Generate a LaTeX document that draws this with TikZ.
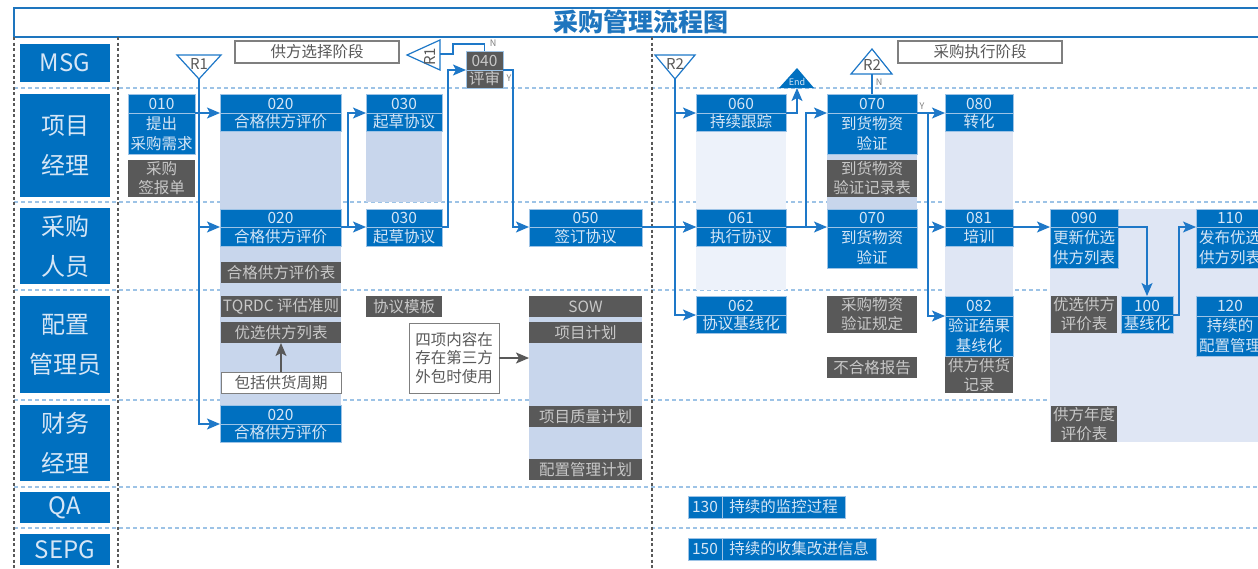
\documentclass[tikz,border=0pt]{standalone}
\usepackage{fontspec}
\setmainfont{Noto Sans CJK SC}
\usepackage{tikz}
\usetikzlibrary{arrows.meta}

\definecolor{pblue}{RGB}{0,112,192}
\definecolor{ptext}{RGB}{214,230,246}
\definecolor{ablue}{RGB}{30,120,200}
\definecolor{tblue}{RGB}{30,117,190}
\definecolor{lblue}{RGB}{157,195,230}
\definecolor{dgrey}{RGB}{89,89,89}
\definecolor{mgrey}{RGB}{127,127,127}
\definecolor{gtext}{RGB}{200,200,200}
\definecolor{colA}{RGB}{200,214,236}
\definecolor{colB}{RGB}{237,242,250}
\definecolor{colC}{RGB}{223,230,244}

\begin{document}
\begin{tikzpicture}[x=1pt, y=-1pt,
    every node/.style={inner sep=0pt, outer sep=0pt},
    lanebox/.style={anchor=north west, fill=pblue, text=ptext, minimum width=90pt, align=center, font=\fontsize{24}{40}\selectfont},
    hd/.style={anchor=north west, fill=pblue, draw=lblue, line width=0.6pt, text=ptext, minimum height=19pt, align=center, font=\fontsize{15.5}{20}\selectfont},
    doc/.style={anchor=north west, fill=dgrey, text=gtext, align=center, font=\fontsize{15.5}{19}\selectfont},
    memo/.style={anchor=north west, fill=white, draw=mgrey, line width=1pt, text=dgrey, align=center, font=\fontsize{15.5}{18.5}\selectfont},
    phase/.style={anchor=north west, draw=mgrey, line width=1.2pt, text=dgrey, minimum width=164pt, minimum height=22pt, font=\fontsize{15.5}{19}\selectfont},
    flow/.style={draw=ablue, line width=1.5pt, -{Stealth[length=13pt,width=11pt,inset=3pt]}},
    wire/.style={draw=ablue, line width=1.5pt},
    gflow/.style={draw=dgrey, line width=1.5pt, -{Stealth[length=13pt,width=11pt,inset=3pt]}},
    tri/.style={draw=ablue, line width=1.2pt, fill=white},
    rtxt/.style={text=dgrey, font=\fontsize{15}{15}\selectfont},
    tag/.style={text=mgrey, font=\fontsize{9}{9}\selectfont},
    lanesep/.style={draw=lblue, line width=1.2pt, dash pattern=on 4pt off 3pt},
    colsep/.style={draw=dgrey, line width=1.2pt, dash pattern=on 3pt off 2.5pt}
  ]
  \useasboundingbox (0,0) rectangle (1258,568);
  \clip (0,0) rectangle (1258,568);
  \fill[white] (0,0) rectangle (1258,568);

  % title
  \draw[tblue, line width=1.2pt] (14,8) rectangle (1275,37);
  \node[text=tblue, font=\fontsize{25}{28}\selectfont\bfseries] (title) at (641,22) {采购管理流程图};

  % lane lines
  \foreach \ly in {88,202,290,400,487,528}
    \draw[lanesep] (14,\ly) -- (1258,\ly);
  \draw[colsep] (14,37) -- (14,568);
  \draw[colsep] (118,37) -- (118,568);
  \draw[colsep] (652,37) -- (652,568);

  % lanes
  \node[lanebox, minimum height=38pt] (lmsg) at (20,44) {MSG};
  \node[lanebox, minimum height=103pt] (lpm) at (20,94) {项目\\经理};
  \node[lanebox, minimum height=76pt] (lbuy) at (20,208) {采购\\人员};
  \node[lanebox, minimum height=97pt] (lcm) at (20,296) {配置\\管理员};
  \node[lanebox, minimum height=76pt] (lfin) at (20,405) {财务\\经理};
  \node[lanebox, minimum height=31pt] (lqa) at (20,492) {QA};
  \node[lanebox, minimum height=31pt] (lsepg) at (20,534) {SEPG};

  % phases
  \node[phase] (ph1) at (235,41) {供方选择阶段};
  \node[phase] (ph2) at (898,41) {采购执行阶段};

  % columns
  \fill[colA] (220,131) rectangle (341,405);
  \fill[colA] (366,131) rectangle (442,202);
  \node[anchor=north west, fill=colA, minimum width=113pt, minimum height=163pt] (sowcol) at (529,317) {};
  \fill[colB] (696,131) rectangle (786,290);
  \fill[colA] (827,154) rectangle (917,209);
  \fill[colC] (945,131) rectangle (1013,296);
  \fill[colC] (1050,209) rectangle (1258,442);

  % triangles
  \draw[tri] (177,55) -- (221,55) -- (199,79) coordinate (r1tip) -- cycle;
  \node[rtxt] (r1txt) at (199,64) {R1};
  \draw[tri] (407,55) -- (440,40) -- (440,70) -- cycle;
  \coordinate (r1back) at (440,54);
  \node[rtxt, rotate=90] (r1btxt) at (430,57) {R1};
  \draw[tri] (655,55) -- (695,55) -- (675,79) coordinate (r2tip) -- cycle;
  \node[rtxt] (r2txt) at (675,64) {R2};
  \draw[tri] (851,74) -- (892,74) -- (872,49) -- cycle;
  \coordinate (r2base) at (872,74);
  \node[rtxt] (r2btxt) at (872,65) {R2};
  \fill[pblue] (779,88) -- (814,88) -- (797,68) -- cycle;
  \coordinate (endbase) at (797,88);
  \node[text=ptext, font=\fontsize{9}{9}\selectfont] (endtxt) at (797,82) {End};

  % 项目经理
  \node[hd, minimum width=67pt] (pm010) at (128,94) {010};
  \node[hd, minimum width=67pt, minimum height=41pt] (pm010t) at (pm010.south west) {提出\\采购需求};
  \node[doc, minimum width=67pt, minimum height=37pt] (pmdoc010) at (128,160) {采购\\签报单};
  \node[hd, minimum width=121pt] (pm020) at (220,94) {020};
  \node[hd, minimum width=121pt, minimum height=18pt] (pm020t) at (pm020.south west) {合格供方评价};
  \node[hd, minimum width=76pt] (pm030) at (366,94) {030};
  \node[hd, minimum width=76pt, minimum height=18pt] (pm030t) at (pm030.south west) {起草协议};
  \node[hd, fill=dgrey, text=gtext, minimum width=37pt] (r040) at (466,51) {040};
  \node[hd, fill=dgrey, text=gtext, minimum width=37pt, minimum height=18pt] (r040t) at (r040.south west) {评审};
  \node[hd, minimum width=90pt] (pm060) at (696,94) {060};
  \node[hd, minimum width=90pt, minimum height=18pt] (pm060t) at (pm060.south west) {持续跟踪};
  \node[hd, minimum width=90pt] (pm070) at (827,94) {070};
  \node[hd, minimum width=90pt, minimum height=41pt] (pm070t) at (pm070.south west) {到货物资\\验证};
  \node[doc, minimum width=90pt, minimum height=37pt] (pmdoc070) at (827,160) {到货物资\\验证记录表};
  \node[hd, minimum width=68pt] (pm080) at (945,94) {080};
  \node[hd, minimum width=68pt, minimum height=18pt] (pm080t) at (pm080.south west) {转化};

  % 采购人员
  \node[hd, minimum width=121pt, minimum height=18pt] (buy020) at (220,209) {020};
  \node[hd, minimum width=121pt] (buy020t) at (buy020.south west) {合格供方评价};
  \node[doc, minimum width=120pt, minimum height=21pt] (buydoc020) at (221,262) {合格供方评价表};
  \node[hd, minimum width=76pt, minimum height=18pt] (buy030) at (366,209) {030};
  \node[hd, minimum width=76pt] (buy030t) at (buy030.south west) {起草协议};
  \node[hd, minimum width=113pt, minimum height=18pt] (buy050) at (529,209) {050};
  \node[hd, minimum width=113pt] (buy050t) at (buy050.south west) {签订协议};
  \node[hd, minimum width=90pt, minimum height=18pt] (buy061) at (696,209) {061};
  \node[hd, minimum width=90pt] (buy061t) at (buy061.south west) {执行协议};
  \node[hd, minimum width=90pt, minimum height=18pt] (buy070) at (827,209) {070};
  \node[hd, minimum width=90pt, minimum height=41pt] (buy070t) at (buy070.south west) {到货物资\\验证};
  \node[hd, minimum width=68pt, minimum height=18pt] (buy081) at (945,209) {081};
  \node[hd, minimum width=68pt] (buy081t) at (buy081.south west) {培训};
  \node[hd, minimum width=68pt, minimum height=18pt] (buy090) at (1050,209) {090};
  \node[hd, minimum width=68pt, minimum height=41pt] (buy090t) at (buy090.south west) {更新优选\\供方列表};
  \node[hd, minimum width=68pt, minimum height=18pt] (buy110) at (1196,209) {110};
  \node[hd, minimum width=68pt, minimum height=41pt] (buy110t) at (buy110.south west) {发布优选\\供方列表};

  % 配置管理员
  \node[doc, minimum width=120pt, minimum height=21pt] (cmdoc020a) at (221,296) {TQRDC 评估准则};
  \node[doc, minimum width=120pt, minimum height=21pt] (cmdoc020b) at (221,322) {优选供方列表};
  \node[memo, minimum width=120pt, minimum height=21pt] (cmnote020) at (221,372) {包括供货周期};
  \node[doc, minimum width=76pt, minimum height=21pt] (cmdoc030) at (366,296) {协议模板};
  \node[memo, minimum width=90pt, minimum height=70pt] (cmnote) at (409,323) {四项内容在\\存在第三方\\外包时使用};
  \node[doc, minimum width=113pt, minimum height=21pt] (sow) at (529,296) {SOW};
  \node[doc, minimum width=113pt, minimum height=21pt] (plan) at (529,322) {项目计划};
  \node[hd, minimum width=90pt] (cm062) at (696,296) {062};
  \node[hd, minimum width=90pt, minimum height=18pt] (cm062t) at (cm062.south west) {协议基线化};
  \node[doc, minimum width=90pt, minimum height=37pt] (cmdoc070a) at (827,296) {采购物资\\验证规定};
  \node[doc, minimum width=90pt, minimum height=21pt] (cmdoc070b) at (827,357) {不合格报告};
  \node[hd, minimum width=68pt, minimum height=20pt] (cm082) at (945,296) {082};
  \node[hd, minimum width=68pt, minimum height=40pt] (cm082t) at (cm082.south west) {验证结果\\基线化};
  \node[doc, minimum width=68pt, minimum height=36pt] (cmdoc082) at (945,357) {供方供货\\记录};
  \node[doc, minimum width=66pt, minimum height=37pt] (cmdoc090) at (1051,296) {优选供方\\评价表};
  \node[hd, minimum width=52pt] (cm100) at (1121,296) {100};
  \node[hd, minimum width=52pt, minimum height=18pt] (cm100t) at (cm100.south west) {基线化};
  \node[hd, minimum width=68pt, minimum height=20pt] (cm120) at (1196,296) {120};
  \node[hd, minimum width=68pt, minimum height=40pt] (cm120t) at (cm120.south west) {持续的\\配置管理};

  % 财务经理
  \node[hd, minimum width=121pt] (fin020) at (220,405) {020};
  \node[hd, minimum width=121pt, minimum height=18pt] (fin020t) at (fin020.south west) {合格供方评价};
  \node[doc, minimum width=113pt, minimum height=21pt] (findoc050a) at (529,406) {项目质量计划};
  \node[doc, minimum width=113pt, minimum height=21pt] (findoc050b) at (529,459) {配置管理计划};
  \node[doc, minimum width=66pt, minimum height=36pt] (findoc090) at (1051,406) {供方年度\\评价表};

  % QA, SEPG
  \node[hd, minimum width=34pt, minimum height=22pt] (qa130) at (688,496) {130};
  \node[hd, minimum width=123pt, minimum height=22pt] (qa130t) at (qa130.north east) {持续的监控过程};
  \node[hd, minimum width=34pt, minimum height=22pt] (sepg150) at (688,538) {150};
  \node[hd, minimum width=154pt, minimum height=22pt] (sepg150t) at (sepg150.north east) {持续的收集改进信息};

  % connectors
  \draw[flow] (pm010.south east) -- (pm020.south west);
  \draw[flow] (r1tip) |- (fin020.south west);
  \draw[flow] (r1tip |- buy020.south west) -- (buy020.south west);
  \draw[wire] (buy020.south east) -- ++(7,0) coordinate (j020);
  \draw[flow] (j020) -- (buy030.south west);
  \draw[flow] (j020) |- (pm030.south west);
  \draw[flow] (buy030.south east) -- ++(6,0) |- (r040.south west);
  \draw[wire] (r040.north) -- ++(0,-7) -| (453,54) -- (r1back);
  \node[tag] (tagn1) at (493,43) {N};
  \draw[flow] (r040.south east) -- ++(10,0) |- (buy050.south west);
  \node[tag] (tagy1) at (509,78) {Y};
  \draw[flow] (buy050.south east) -- (buy061.south west);
  \draw[flow] (r2tip) |- (pm060.south west);
  \draw[flow] (r2tip |- buy061.south west) -- (buy061.south west);
  \draw[flow] (r2tip) |- (cm062.south west);
  \draw[flow] (pm060.south east) -| (endbase);
  \draw[flow] (buy061.south east) -- (buy070.south west);
  \draw[flow] (buy061.south east) ++(20,0) |- (pm070.south west);
  \draw[wire] (pm070.north) -- (r2base);
  \node[tag] (tagn2) at (879,82) {N};
  \draw[flow] (pm070.south east) -- (pm080.south west);
  \node[tag] (tagy2) at (922,106) {Y};
  \draw[flow] (pm070.south east) ++(11,0) |- (buy081.south west);
  \draw[flow] (pm070.south east) ++(11,0) |- (cm082.south west);
  \draw[flow] (buy081.south east) -- (buy090.south west);
  \draw[flow] (buy090.south east) -| (cm100.north);
  \draw[flow] (cm100.south east) -- ++(6,0) |- (buy110.south west);
  \draw[gflow] (cmnote020.north) -- (cmdoc020b.south);
  \draw[gflow] (cmnote.east) -- (sowcol.west |- cmnote.east);
\end{tikzpicture}
\end{document}
